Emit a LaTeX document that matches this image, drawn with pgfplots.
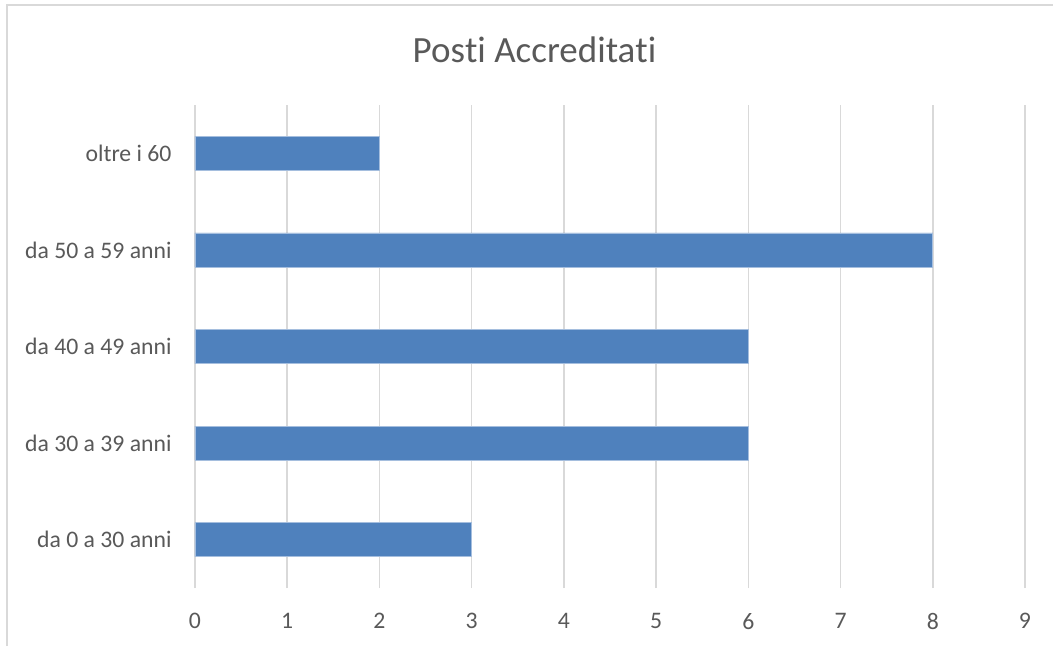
\documentclass[border=0pt]{standalone}
\usepackage{pgfplots}
\pgfplotsset{compat=1.18}
\usepackage{fontspec}
\setmainfont{Carlito}[Ligatures=NoCommon, Contextuals=NoAlternate, RawFeature=-liga]
\definecolor{barblue}{RGB}{79,129,189}
\definecolor{baredge}{RGB}{165,190,222}
\definecolor{txtgray}{RGB}{89,89,89}
\definecolor{gridgray}{RGB}{217,217,217}
\definecolor{framegray}{RGB}{217,217,217}
\begin{document}
\begin{tikzpicture}[x=1pt,y=1pt]
  \useasboundingbox (0,0) rectangle (1053,646);
  \fill[white] (0,0) rectangle (1053,646);
  % chart frame
  \draw[framegray, line width=1.5pt] (7,0) -- (7,641) -- (1053,641);
  % title
  \node[anchor=base, text=txtgray, font=\fontsize{37}{44}\selectfont, inner sep=0pt]
    at (534.5,583) {Pos\kern0ptti Accredita\kern0ptti};
  \begin{axis}[
    at={(195pt,58pt)}, anchor=south west,
    scale only axis, width=830pt, height=483pt,
    xbar, bar width=34pt,
    xmin=0, xmax=9, ymin=-0.5, ymax=4.5,
    xtick={0,1,...,9}, ytick={0,1,2,3,4},
    yticklabels={da 0 a 30 anni, da 30 a 39 anni, da 40 a 49 anni, da 50 a 59 anni, oltre i 60},
    xmajorgrids, grid style={gridgray, line width=1.5pt},
    axis line style={draw=none}, major tick length=0pt,
    tick label style={text=txtgray, font=\fontsize{23.7}{28}\selectfont},
    /pgf/number format/assume math mode=true,
    yticklabel style={xshift=-20pt},
    xticklabel style={yshift=-22pt},
  ]
    \addplot[fill=barblue, draw=baredge, line width=0.8pt] coordinates {
      (3,0) (6,1) (6,2) (8,3) (2,4)
    };
  \end{axis}
\end{tikzpicture}
\end{document}
